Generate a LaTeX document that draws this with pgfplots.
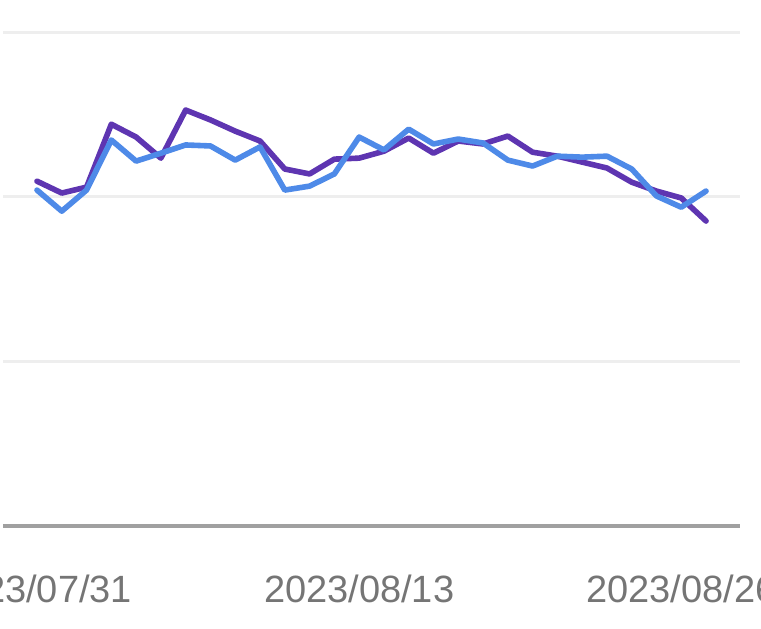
\documentclass[border=0pt]{standalone}
\usepackage{pgfplots}
\pgfplotsset{compat=1.18}
\usepackage{pgfplotstable}
\usepackage{fontspec}
\setmainfont{Liberation Sans}
\definecolor{purpleline}{HTML}{5E35B1}
\definecolor{blueline}{HTML}{4E8AE8}
\definecolor{gridgray}{HTML}{EEEEEE}
\definecolor{basegray}{HTML}{A0A0A0}
\definecolor{labelgray}{HTML}{757575}

% daily values, 2023/07/31 (day 0) to 2023/08/27 (day 27)
\pgfplotstableread{
day purple blue
0  104.7 102.0
1  101.1  95.6
2  102.9 102.0
3  122.0 117.2
4  118.1 110.8
5  111.7 113.2
6  126.3 115.7
7  123.3 115.4
8  119.9 111.1
9  116.9 115.1
10 108.4 102.0
11 106.9 103.2
12 111.4 106.9
13 111.7 118.1
14 113.8 114.2
15 117.8 120.5
16 113.2 116.0
17 116.9 117.5
18 116.0 116.3
19 118.4 111.1
20 113.5 109.3
21 112.3 112.3
22 110.5 112.0
23 108.7 112.3
24 104.4 108.4
25 101.7 100.2
26  99.6  96.8
27  92.6 101.7
}\datatable

\begin{document}
\begin{tikzpicture}
\begin{axis}[
  scale only axis,
  width=368.5pt, height=247pt,
  xmin=-1.372, xmax=28.37,
  ymin=0, ymax=150,
  axis line style={draw=none},
  major tick length=0pt,
  ytick={50,100,150},
  yticklabels={},
  ymajorgrids,
  grid style={color=gridgray, line width=1.5pt},
  extra y ticks={0},
  extra y tick labels={},
  extra y tick style={grid style={color=basegray, line width=1.6pt}},
  xtick={0,13,26},
  xticklabels={2023/07/31,2023/08/13,2023/08/26},
  xticklabel style={font=\fontsize{19}{22}\selectfont, text=labelgray,
    anchor=base, inner sep=0pt, yshift=-38pt},
  clip=false,
]
\addplot[purpleline, line width=2.8pt, line join=round, line cap=round]
  table[x=day, y=purple] {\datatable};
\addplot[blueline, line width=2.8pt, line join=round, line cap=round]
  table[x=day, y=blue] {\datatable};
\end{axis}
\pgfresetboundingbox
\useasboundingbox (-1.5pt,-51pt) rectangle (379pt,263pt);
\end{tikzpicture}
\end{document}
